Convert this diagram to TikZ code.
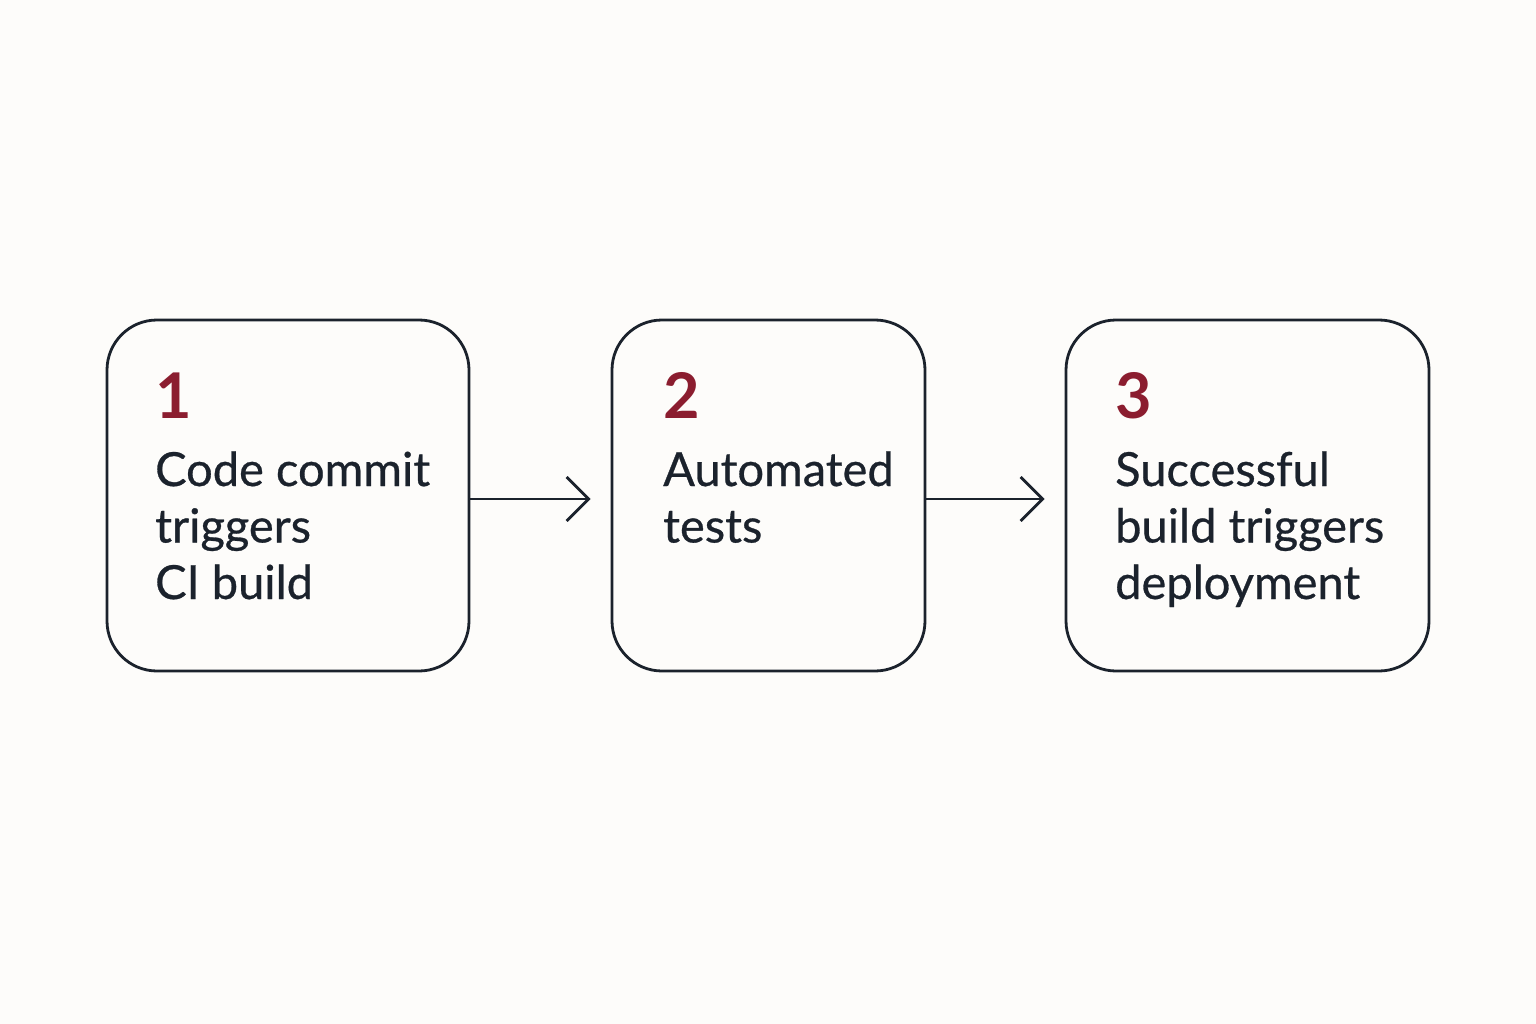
\documentclass[tikz,border=0pt]{standalone}
\usepackage{fontspec}
\setmainfont{Lato}
\newfontfamily\stepfont{Lato}[FakeBold=0.6]
\usetikzlibrary{arrows.meta}
\definecolor{numred}{HTML}{8B1D2F}
\definecolor{ink}{HTML}{1B222C}
\definecolor{paper}{HTML}{FDFCFA}
\begin{document}
\begin{tikzpicture}[x=1pt,y=-1pt,
    stepbox/.style={draw=ink, line width=2.8pt, rounded corners=50pt,
      minimum height=351pt, inner sep=0pt},
    stepnum/.style={anchor=base west, inner sep=0pt, text=numred,
      font=\fontsize{63}{63}\selectfont\bfseries},
    steptext/.style={anchor=base west, inner sep=0pt, text=ink, align=left,
      font=\stepfont\fontsize{47}{56.5}\selectfont},
    flow/.style={draw=ink, line width=2.8pt, shorten >=20pt,
      -{Straight Barb[length=22pt,width=44pt,line width=2.8pt]}}]
  \fill[paper] (0,0) rectangle (1536,1024);
  \draw
    (288,495.5) node[stepbox, minimum width=362pt] (b1){}
    (768.5,495.5) node[stepbox, minimum width=313pt] (b2){}
    (1247.5,495.5) node[stepbox, minimum width=363pt] (b3){};
  \node[stepnum] (n1) at (155,418) {1};
  \node[stepnum] (n2) at (663,418) {2};
  \node[stepnum] (n3) at (1115,418) {3};
  % base anchor sits on the last line
  \node[steptext] (t1) at (155,599) {Code commit\\triggers\\CI build};
  \node[steptext] (t2) at (663,542.5) {Automated\\tests};
  \node[steptext] (t3) at (1115,599) {Successful\\build triggers\\deployment};
  \begin{scope}[flow]
    \draw ([yshift=-3.5pt]b1.east) to ([yshift=-3.5pt]b2.west);
    \draw ([yshift=-3.5pt]b2.east) to ([yshift=-3.5pt]b3.west);
  \end{scope}
\end{tikzpicture}
\end{document}
